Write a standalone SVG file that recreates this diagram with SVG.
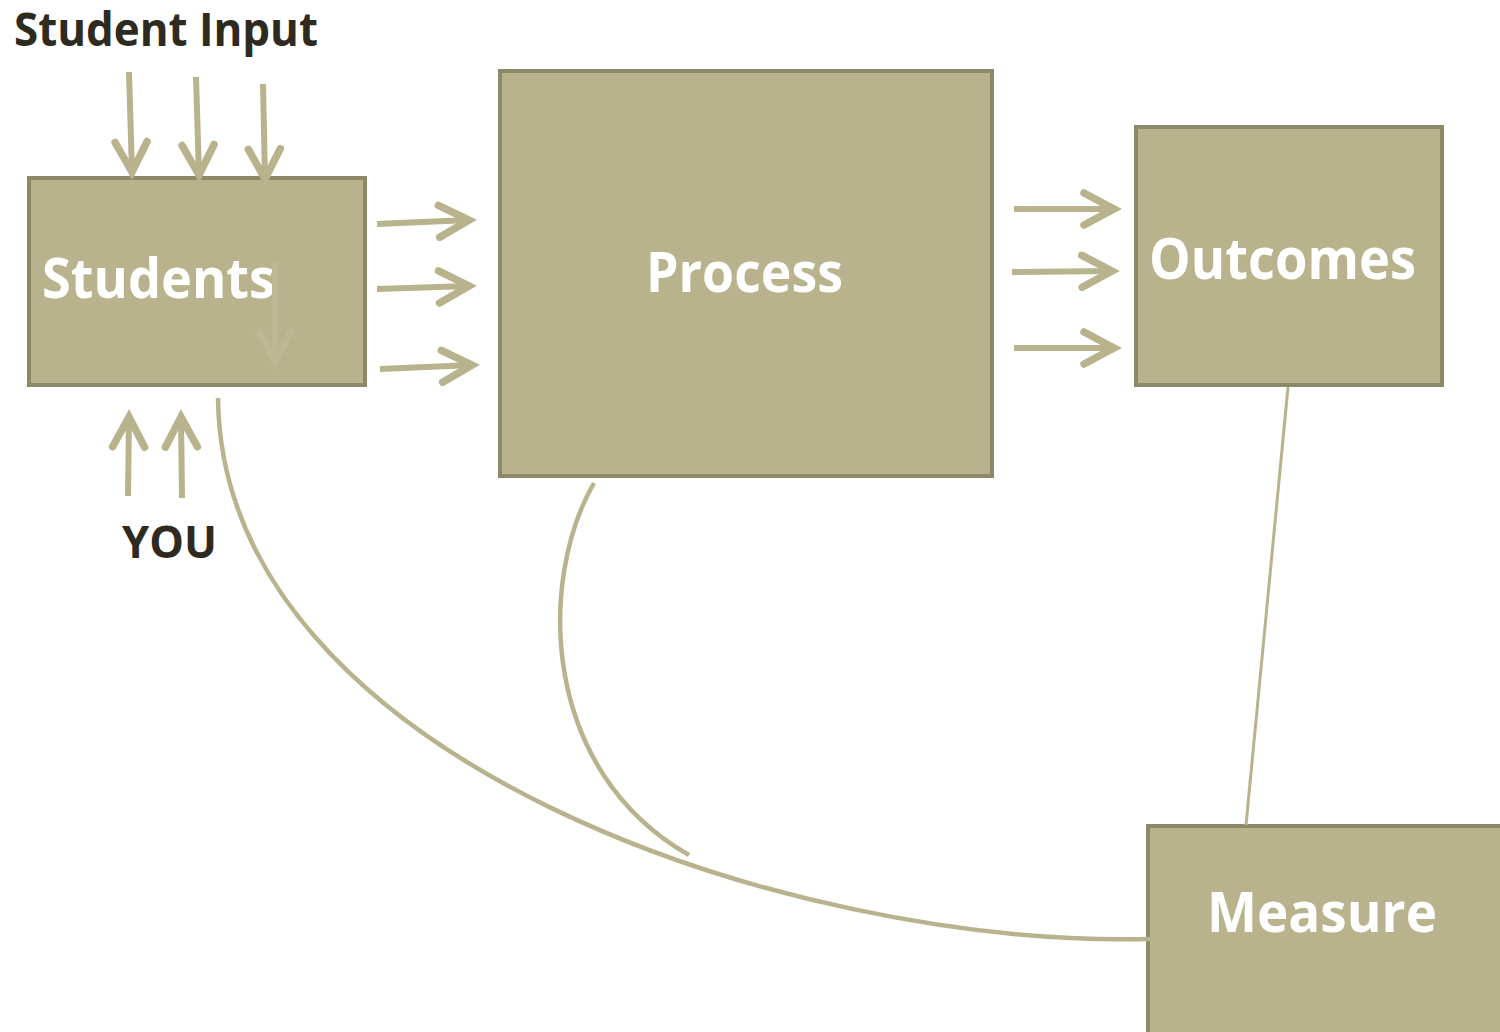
<svg xmlns="http://www.w3.org/2000/svg" width="1500" height="1032" viewBox="0 0 1500 1032">
<defs>
<style>
.box{fill:#B8B28D;stroke:#8B8968;stroke-width:4}
.lbl{font-family:"Open Sans","Liberation Sans",sans-serif;font-weight:bold;fill:#FFFFFF}
.dark{font-family:"Open Sans","Liberation Sans",sans-serif;font-weight:bold;fill:#2E2A1F}
.arr{fill:none;stroke:#B8B28D;stroke-width:6;stroke-linecap:butt}
.curve{fill:none;stroke:#B8B28D;stroke-width:4.5}
</style>
<marker id="ah" markerUnits="userSpaceOnUse" viewBox="-40 -25 50 50" refX="0" refY="0" markerWidth="50" markerHeight="50" orient="auto" overflow="visible">
<polyline points="-30,-16 0,0 -30,16" fill="none" stroke="#B8B28D" stroke-width="7.5" stroke-linecap="round" stroke-linejoin="miter"/>
</marker>
<marker id="ahf" markerUnits="userSpaceOnUse" viewBox="-40 -25 50 50" refX="0" refY="0" markerWidth="50" markerHeight="50" orient="auto" overflow="visible">
<polyline points="-30,-16 0,0 -30,16" fill="none" stroke="#BDB793" stroke-width="7" stroke-linecap="round" stroke-linejoin="miter"/>
</marker>
</defs>
<rect width="1500" height="1032" fill="#FFFFFF"/>
<g id="students">
<rect class="box" x="29" y="178" width="336" height="207"/>
<text class="lbl" x="42" y="298" font-size="56" textLength="233" lengthAdjust="spacingAndGlyphs">Students</text>
<line x1="275" y1="262" x2="275" y2="362" stroke="#BDB793" stroke-width="6" marker-end="url(#ahf)"/>
</g>
<g id="process">
<rect class="box" x="500" y="71" width="492" height="405"/>
<text class="lbl" x="646" y="292" font-size="56" textLength="197" lengthAdjust="spacingAndGlyphs">Process</text>
</g>
<g id="outcomes">
<rect class="box" x="1136" y="127" width="306" height="258"/>
<text class="lbl" x="1149" y="279" font-size="57" textLength="267" lengthAdjust="spacingAndGlyphs">Outcomes</text>
</g>
<g id="measure">
<rect class="box" x="1148" y="826" width="360" height="220"/>
<text class="lbl" x="1207" y="932" font-size="55" textLength="230" lengthAdjust="spacingAndGlyphs">Measure</text>
</g>
<g id="connectors">
<path class="curve" d="M218,398 C222,760 790,948 1150,939 L1178,938"/>
<path class="curve" d="M594,483 C538,580 540,770 689,855"/>
<line x1="1288" y1="387" x2="1246" y2="825" stroke="#B8B28D" stroke-width="3"/>
</g>
<g id="arrows">
<line class="arr" x1="129" y1="72" x2="132" y2="172" marker-end="url(#ah)"/>
<line class="arr" x1="196" y1="77" x2="199" y2="175" marker-end="url(#ah)"/>
<line class="arr" x1="263" y1="84" x2="265" y2="179" marker-end="url(#ah)"/>
<line class="arr" x1="377" y1="224" x2="469" y2="220" marker-end="url(#ah)"/>
<line class="arr" x1="377" y1="289" x2="469" y2="286" marker-end="url(#ah)"/>
<line class="arr" x1="380" y1="369" x2="472" y2="365" marker-end="url(#ah)"/>
<line class="arr" x1="1014" y1="209" x2="1114" y2="209" marker-end="url(#ah)"/>
<line class="arr" x1="1012" y1="272" x2="1112" y2="271" marker-end="url(#ah)"/>
<line class="arr" x1="1014" y1="348" x2="1114" y2="348" marker-end="url(#ah)"/>
<line class="arr" x1="128" y1="496" x2="129" y2="417" marker-end="url(#ah)"/>
<line class="arr" x1="182" y1="498" x2="181" y2="417" marker-end="url(#ah)"/>
</g>
<g id="labels">
<text class="dark" x="14" y="46" font-size="46" textLength="304" lengthAdjust="spacingAndGlyphs">Student Input</text>
<text class="dark" x="122" y="558" font-size="44" textLength="95" lengthAdjust="spacingAndGlyphs">YOU</text>
</g>
</svg>
